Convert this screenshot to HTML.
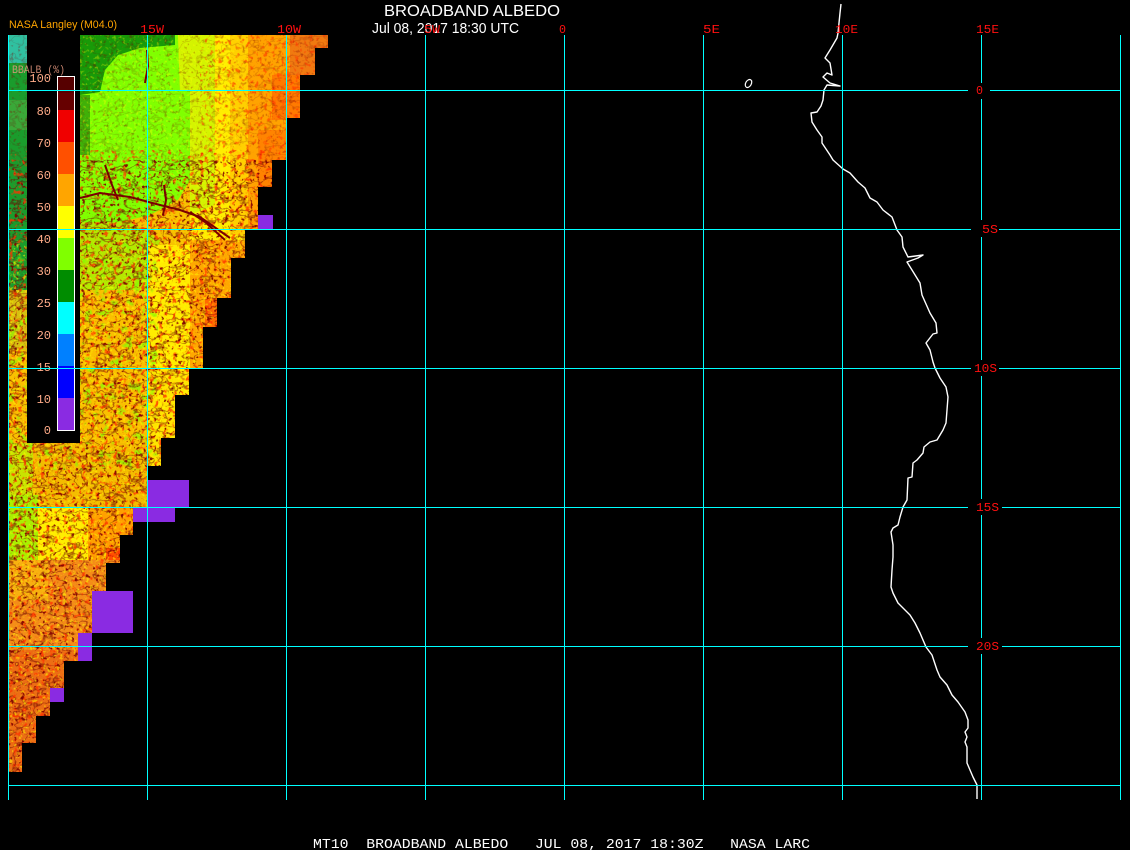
<!DOCTYPE html>
<html><head><meta charset="utf-8">
<style>
html,body{margin:0;padding:0;background:#000;width:1130px;height:850px;overflow:hidden}
svg{display:block}
</style></head>
<body>
<svg width="1130" height="850" viewBox="0 0 1130 850" xmlns="http://www.w3.org/2000/svg">
<defs>
<clipPath id="dc">
<polygon points="80,35 328,35 328,48 315,48 315,75 300,75 300,118 286,118 286,160 272,160 272,187 258,187 258,229 245,229 245,258 231,258 231,298 217,298 217,327 203,327 203,368 189,368 189,395 175,395 175,438 161,438 161,466 147,466 147,507 133,507 133,535 120,535 120,563 106,563 106,591 92,591 92,633 78,633 78,661 64,661 64,688 50,688 50,716 36,716 36,743 22,743 22,772 8,772 8,443 80,443"/>
<rect x="8" y="35" width="19" height="410"/>
</clipPath>
<filter id="veins" x="0" y="0" width="1" height="1" color-interpolation-filters="sRGB">
<feTurbulence type="fractalNoise" baseFrequency="0.06 0.09" numOctaves="3" seed="4"/>
<feColorMatrix type="matrix" values="0 0 0 0 0.42  0 0 0 0 0  0 0 0 0 0  1 0 0 0 0"/>
<feComponentTransfer><feFuncA type="table" tableValues="0 0 0 0 0 0 0 0 0 0 0 1 0 0 0 0 0 0 0 0 0"/></feComponentTransfer>
</filter>
<filter id="sdark" x="0" y="0" width="1" height="1" color-interpolation-filters="sRGB">
<feTurbulence type="fractalNoise" baseFrequency="0.28" numOctaves="2" seed="13"/>
<feColorMatrix type="matrix" values="0 0 0 0 0.5  0 0 0 0 0  0 0 0 0 0  1 0 0 0 0"/>
<feComponentTransfer><feFuncA type="linear" slope="7" intercept="-4.2"/></feComponentTransfer>
</filter>
<filter id="sred" x="0" y="0" width="1" height="1" color-interpolation-filters="sRGB">
<feTurbulence type="fractalNoise" baseFrequency="0.22" numOctaves="2" seed="9"/>
<feColorMatrix type="matrix" values="0 0 0 0 1  0 0 0 0 0.2  0 0 0 0 0  1 0 0 0 0"/>
<feComponentTransfer><feFuncA type="linear" slope="6" intercept="-3.4"/></feComponentTransfer>
</filter>
<filter id="ylw" x="0" y="0" width="1" height="1" color-interpolation-filters="sRGB">
<feTurbulence type="fractalNoise" baseFrequency="0.3" numOctaves="2" seed="21"/>
<feColorMatrix type="matrix" values="0 0 0 0 1  0 0 0 0 1  0 0 0 0 0  1 0 0 0 0"/>
<feComponentTransfer><feFuncA type="linear" slope="6" intercept="-3.4"/></feComponentTransfer>
</filter>
<filter id="lime" x="0" y="0" width="1" height="1" color-interpolation-filters="sRGB">
<feTurbulence type="fractalNoise" baseFrequency="0.12" numOctaves="2" seed="31"/>
<feColorMatrix type="matrix" values="0 0 0 0 0.5  0 0 0 0 1  0 0 0 0 0  1 0 0 0 0"/>
<feComponentTransfer><feFuncA type="linear" slope="6" intercept="-3.3"/></feComponentTransfer>
</filter>
</defs>

<rect width="1130" height="850" fill="#000"/>

<g clip-path="url(#dc)">
<rect x="0" y="30" width="400" height="760" fill="#f8c400"/>
<!-- top zones -->
<rect x="8" y="35" width="19" height="255" fill="#1a9c2c"/>
<rect x="8" y="35" width="19" height="28" fill="#30c0a0"/>
<rect x="8" y="100" width="19" height="30" fill="#3aa838"/>
<polygon fill="#80ff00" points="80,35 178,35 180,90 190,90 190,180 178,200 150,215 120,222 80,240"/>
<polygon fill="#189a08" points="80,35 175,35 175,45 140,48 118,55 105,70 100,92 80,95"/>
<rect x="80" y="95" width="10" height="60" fill="#40b008"/>
<polygon fill="#d4f400" points="178,35 215,35 215,205 190,215 190,90 180,90"/>
<polygon fill="#ffee00" points="215,35 245,35 245,245 190,245 190,215 215,205"/>
<polygon fill="#ffa300" points="245,35 330,35 330,250 245,250"/>
<rect x="230" y="35" width="18" height="200" fill="#ffd000"/>
<rect x="290" y="35" width="40" height="40" fill="#f07a10"/>
<rect x="258" y="130" width="30" height="85" fill="#ff8400"/>
<rect x="272" y="75" width="28" height="45" fill="#ff7a00"/>
<!-- middle -->
<polygon fill="#b4e800" points="80,222 130,222 160,240 150,300 80,300"/>
<rect x="147" y="245" width="45" height="125" fill="#ffec00"/>
<rect x="190" y="240" width="60" height="130" fill="#ffa800"/>
<rect x="205" y="298" width="30" height="30" fill="#ff6a00"/>
<rect x="8" y="290" width="140" height="155" fill="#fac000"/>
<rect x="8" y="290" width="19" height="60" fill="#d8c010"/>
<rect x="147" y="370" width="45" height="110" fill="#ffe400"/>
<!-- lower -->
<rect x="8" y="443" width="140" height="64" fill="#f4bc00"/>
<rect x="8" y="443" width="25" height="64" fill="#c8e400"/>
<rect x="8" y="495" width="30" height="65" fill="#a8f000"/>
<rect x="38" y="507" width="55" height="55" fill="#ffee00"/>
<rect x="88" y="507" width="50" height="55" fill="#ffa000"/>
<rect x="106" y="548" width="15" height="15" fill="#ff5000"/>
<rect x="8" y="560" width="140" height="220" fill="#f48c18"/>
<rect x="8" y="560" width="40" height="40" fill="#f8b010"/>
<rect x="8" y="650" width="80" height="130" fill="#ec6e14"/>
<!-- textures -->
<rect x="8" y="240" width="150" height="230" filter="url(#lime)" opacity="0.7"/>
<rect x="8" y="35" width="330" height="130" filter="url(#veins)" opacity="0.2"/>
<rect x="8" y="160" width="330" height="620" filter="url(#veins)" opacity="0.6"/>
<rect x="8" y="150" width="330" height="630" filter="url(#sred)" opacity="0.8"/>
<rect x="200" y="35" width="130" height="120" filter="url(#sred)" opacity="0.6"/>
<rect x="8" y="160" width="330" height="620" filter="url(#sdark)" opacity="0.9"/>
<rect x="8" y="35" width="330" height="130" filter="url(#sdark)" opacity="0.3"/>
<rect x="8" y="240" width="330" height="540" filter="url(#ylw)" opacity="0.55"/>
<rect x="80" y="35" width="160" height="160" filter="url(#ylw)" opacity="0.35"/>
<!-- explicit streaks -->
<g fill="none" stroke="#7a0000" stroke-width="2" stroke-linejoin="round">
<polyline points="80,198 100,193 130,197 160,205 180,210 200,217 230,238"/>
<polyline points="147,50 148,66 145,83"/>
<polyline points="164,185 166,200 163,215"/>
<polyline points="105,165 112,185 118,200"/>
<polyline points="190,212 205,222 225,240"/>
</g>
</g>

<!-- purple (missing) blocks -->
<g fill="#8a2be2" shape-rendering="crispEdges">
<rect x="258" y="215" width="15" height="14"/>
<rect x="147" y="480" width="42" height="27"/>
<rect x="133" y="507" width="42" height="15"/>
<rect x="92" y="591" width="41" height="42"/>
<rect x="78" y="633" width="14" height="28"/>
<rect x="50" y="688" width="14" height="14"/>
</g>

<!-- colorbar panel -->
<g shape-rendering="crispEdges">
<rect x="27" y="35" width="53" height="408" fill="#000"/>
<rect x="57" y="76" width="18" height="355" fill="#fff"/>
<rect x="58" y="77" width="16" height="16" fill="#560000"/>
<rect x="58" y="93" width="16" height="17" fill="#660000"/>
<rect x="58" y="110" width="16" height="32" fill="#f00000"/>
<rect x="58" y="142" width="16" height="32" fill="#ff5000"/>
<rect x="58" y="174" width="16" height="32" fill="#ffa500"/>
<rect x="58" y="206" width="16" height="32" fill="#ffff00"/>
<rect x="58" y="238" width="16" height="32" fill="#80ff00"/>
<rect x="58" y="270" width="16" height="32" fill="#008c00"/>
<rect x="58" y="302" width="16" height="32" fill="#00ffff"/>
<rect x="58" y="334" width="16" height="32" fill="#0080ff"/>
<rect x="58" y="366" width="16" height="32" fill="#0000ff"/>
<rect x="58" y="398" width="16" height="32" fill="#8a2be2"/>
</g>
<g font-family="Liberation Mono, monospace" font-size="12" fill="#ffab88" text-anchor="end">
<text x="51" y="82">100</text>
<text x="51" y="115">80</text>
<text x="51" y="147">70</text>
<text x="51" y="179">60</text>
<text x="51" y="211">50</text>
<text x="51" y="243">40</text>
<text x="51" y="275">30</text>
<text x="51" y="307">25</text>
<text x="51" y="339">20</text>
<text x="51" y="371">15</text>
<text x="51" y="403">10</text>
<text x="51" y="434">0</text>
</g>
<text x="12" y="73" font-family="Liberation Mono, monospace" font-size="11" fill="#e89a80" fill-opacity="0.85" textLength="53" lengthAdjust="spacingAndGlyphs">BBALB (%)</text>

<!-- coastline -->
<polyline fill="none" stroke="#fff" stroke-width="1.4" stroke-linejoin="round" points="841,4 840,13 838,33 837,38 830,50 825,58 830,63 832,75 827,73 823,77 830,83 840,86 827,85 824,90 823,100 821,106 817,112 811,113 812,122 817,130 822,137 822,143 830,155 833,160 843,169 850,173 858,182 865,188 870,198 877,202 883,210 892,217 897,230 902,237 903,247 908,257 923,255 918,258 907,262 912,270 920,283 922,295 930,313 936,323 937,333 933,334 926,343 930,350 933,362 935,368 940,378 946,387 948,397 947,410 946,423 943,430 937,440 930,442 924,447 923,453 917,460 913,463 912,477 908,478 907,500 903,507 900,517 898,525 893,528 891,532 893,545 893,557 892,570 891,587 893,593 898,603 905,610 910,615 915,623 920,633 926,647 932,655 937,670 940,677 947,685 952,695 958,702 965,712 968,720 968,728 965,732 967,737 965,742 967,747 967,763 970,770 973,777 977,785 977,793 977,799"/>
<ellipse cx="748.5" cy="83.5" rx="2.8" ry="4.3" transform="rotate(30 748.5 83.5)" fill="none" stroke="#fff" stroke-width="1.2"/>

<!-- grid -->
<g fill="#00ffff" shape-rendering="crispEdges">
<rect x="8" y="35" width="1" height="765"/>
<rect x="147" y="35" width="1" height="765"/>
<rect x="286" y="35" width="1" height="765"/>
<rect x="425" y="35" width="1" height="765"/>
<rect x="564" y="35" width="1" height="765"/>
<rect x="703" y="35" width="1" height="765"/>
<rect x="842" y="35" width="1" height="765"/>
<rect x="981" y="35" width="1" height="765"/>
<rect x="1120" y="35" width="1" height="765"/>
<rect x="8" y="90" width="1113" height="1"/>
<rect x="8" y="229" width="1113" height="1"/>
<rect x="8" y="368" width="1113" height="1"/>
<rect x="8" y="507" width="1113" height="1"/>
<rect x="8" y="646" width="1113" height="1"/>
<rect x="8" y="785" width="1113" height="1"/>
</g>

<!-- lat label boxes -->
<g fill="#000" shape-rendering="crispEdges">
<rect x="968" y="83" width="22" height="16"/>
<rect x="971" y="220" width="28" height="17"/>
<rect x="971" y="360" width="28" height="16"/>
<rect x="968" y="499" width="34" height="16"/>
<rect x="968" y="638" width="34" height="16"/>
</g>
<g font-family="Liberation Mono, monospace" font-size="12" fill="#ff1010">
<text x="976" y="94" textLength="7" lengthAdjust="spacingAndGlyphs">0</text>
<text x="982" y="233" textLength="16" lengthAdjust="spacingAndGlyphs">5S</text>
<text x="974" y="372" textLength="23" lengthAdjust="spacingAndGlyphs">10S</text>
<text x="976" y="511" textLength="23" lengthAdjust="spacingAndGlyphs">15S</text>
<text x="976" y="650" textLength="23" lengthAdjust="spacingAndGlyphs">20S</text>
</g>

<!-- titles -->
<text x="384" y="16" font-family="Liberation Sans, sans-serif" font-size="15.5" fill="#fff" textLength="176" lengthAdjust="spacingAndGlyphs">BROADBAND ALBEDO</text>
<text x="372" y="33" font-family="Liberation Sans, sans-serif" font-size="14.5" fill="#fff" textLength="147" lengthAdjust="spacingAndGlyphs">Jul 08, 2017 18:30 UTC</text>
<text x="9" y="28" font-family="Liberation Sans, sans-serif" font-size="11" fill="#ffa500" textLength="108" lengthAdjust="spacingAndGlyphs">NASA Langley (M04.0)</text>

<!-- lon labels -->
<g font-family="Liberation Mono, monospace" font-size="12" fill="#ff1010">
<text x="140" y="33" textLength="24" lengthAdjust="spacingAndGlyphs">15W</text>
<text x="277" y="33" textLength="24" lengthAdjust="spacingAndGlyphs">10W</text>
<text x="424" y="33" textLength="16" lengthAdjust="spacingAndGlyphs">5W</text>
<text x="559" y="33" textLength="7" lengthAdjust="spacingAndGlyphs">0</text>
<text x="703" y="33" textLength="17" lengthAdjust="spacingAndGlyphs">5E</text>
<text x="835" y="33" textLength="23" lengthAdjust="spacingAndGlyphs">10E</text>
<text x="976" y="33" textLength="23" lengthAdjust="spacingAndGlyphs">15E</text>
</g>

<!-- bottom caption -->
<text x="313" y="848" font-family="Liberation Mono, monospace" font-size="14" fill="#fff" style="white-space:pre" xml:space="preserve" textLength="497" lengthAdjust="spacingAndGlyphs">MT10  BROADBAND ALBEDO   JUL 08, 2017 18:30Z   NASA LARC</text>
</svg>
</body></html>
